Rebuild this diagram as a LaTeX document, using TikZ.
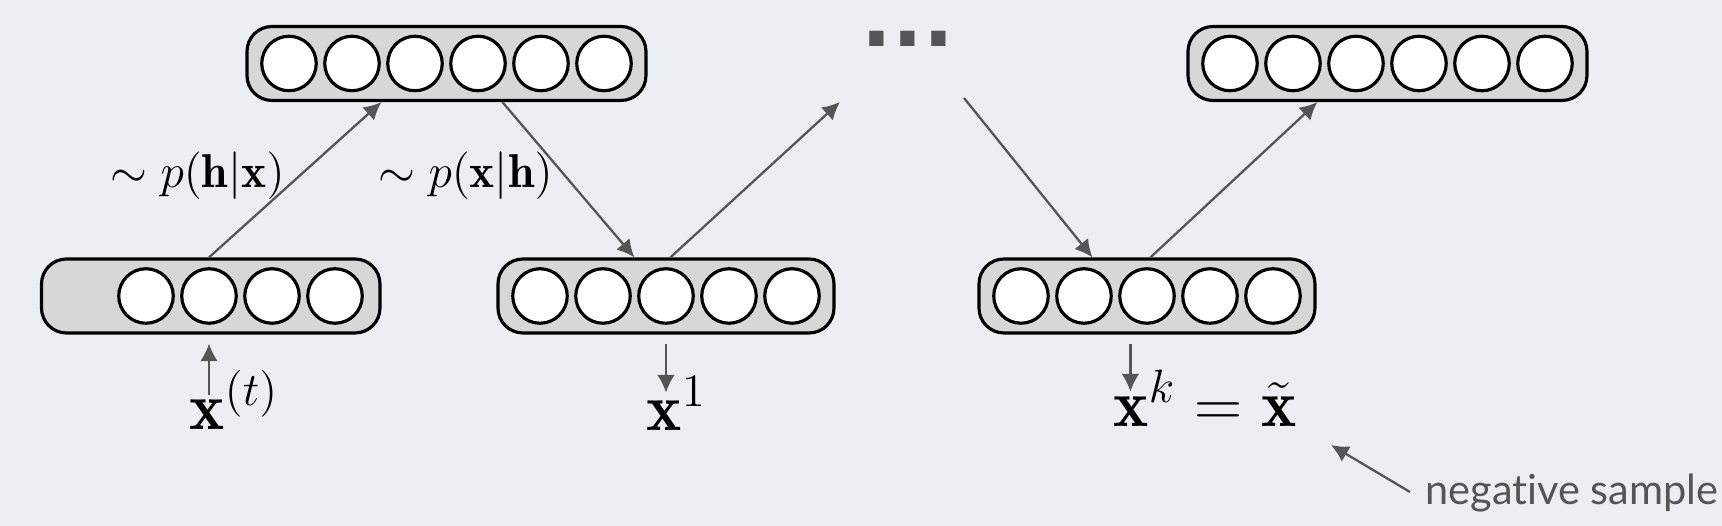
\RequirePackage{fix-cm}
\documentclass[tikz,border=0pt]{standalone}
\usepackage{fontspec}
\usetikzlibrary{arrows.meta,calc}
\newfontfamily\notefont[Ligatures=NoCommon]{Lato}
\newfontfamily\dotsfont{DejaVu Sans}
\definecolor{bgcol}{HTML}{ECEEF1}
\definecolor{boxcol}{HTML}{D7D7D7}
\definecolor{arrcol}{HTML}{555555}
\tikzset{
  layer/.style={draw, line width=0.9pt, fill=boxcol, rounded corners=0.25cm, minimum height=0.74cm, inner sep=0},
  unit/.style={circle, draw, line width=0.9pt, fill=white, minimum size=0.545cm, inner sep=0},
  link/.style={draw=arrcol, line width=0.65pt, -{Latex[length=5pt,width=5pt]}},
  bigmath/.style={anchor=base west, inner sep=0, font=\fontsize{19}{22}\selectfont},
  smallmath/.style={font=\fontsize{13.5}{16}\selectfont}
}
\begin{document}
\begin{tikzpicture}
\fill[bgcol] (0,0) rectangle (17.22,5.26);
\useasboundingbox (0,0) rectangle (17.22,5.26);
% hidden layers
\node[layer, minimum width=3.99cm] (h1) at (4.465,4.625) {};
\foreach \i in {1,...,6} \node[unit] (h1-\i) at (2.26+0.63*\i,4.625) {};
\node[layer, minimum width=3.99cm] (hk) at (13.875,4.625) {};
\foreach \i in {1,...,6} \node[unit] (hk-\i) at (11.67+0.63*\i,4.625) {};
% visible layers
\node[layer, minimum width=3.385cm] (v0) at (2.1075,2.30) {};
\foreach \i in {1,...,4} \node[unit] (v0-\i) at (0.83+0.63*\i,2.30) {};
\node[layer, minimum width=3.36cm] (v1) at (6.66,2.30) {};
\foreach \i in {1,...,5} \node[unit] (v1-\i) at (4.77+0.63*\i,2.30) {};
\node[layer, minimum width=3.36cm] (vk) at (11.47,2.30) {};
\foreach \i in {1,...,5} \node[unit] (vk-\i) at (9.58+0.63*\i,2.30) {};
% gibbs chain
\coordinate (up) at (8.40,4.24);
\coordinate (down) at (9.64,4.28);
\draw[link] (v0-2 |- v0.north) -- ($(h1.south west)+(1.36,0)$);
\draw[link] ($(h1.south west)+(2.57,0)$) -- ($(v1.north west)+(1.38,0)$);
\draw[link] ($(v1.north west)+(1.74,0)$) -- (up);
\draw[link] (down) -- ($(vk.north west)+(1.15,0)$);
\draw[link] ($(vk.north west)+(1.73,0)$) -- ($(hk.south west)+(1.31,0)$);
\node[anchor=base west, inner sep=0, text height=0.2cm, text=arrcol, font=\dotsfont\bfseries\fontsize{23}{26}\selectfont] (dots) at (8.61,4.79) {...};
\node[smallmath] (phx) at (1.975,3.505) {$\sim p(\mathbf{h}|\mathbf{x})$};
\node[smallmath] (pxh) at (4.655,3.505) {$\sim p(\mathbf{x}|\mathbf{h})$};
% samples
\node[bigmath] (xt) at (1.89,0.96) {$\mathbf{x}^{(t)}$};
\node[bigmath] (x1) at (6.46,0.95) {$\mathbf{x}^{1}$};
\node[bigmath] (xk) at (11.13,0.99) {$\mathbf{x}^{k}=\tilde{\mathbf{x}}$};
\draw[link] ($(v0-2 |- v0.south)+(0,-0.60)$) -- ($(v0-2 |- v0.south)+(0,-0.09)$);
\draw[link] ($(v1-3 |- v1.south)+(0,-0.09)$) -- ($(v1-3 |- v1.south)+(0,-0.58)$);
\draw[link] ($(vk.south west)+(1.53,-0.09)$) -- ($(vk.south west)+(1.53,-0.57)$);
% negative sample
\node[anchor=base west, inner sep=0, text=arrcol, font=\notefont\fontsize{11.8}{14}\selectfont] (neg) at (14.25,0.21) {negative sample};
\coordinate (tip) at (13.31,0.81);
\draw[link] ($(neg.base west)+(-0.15,0.13)$) -- (tip);
\end{tikzpicture}
\end{document}
